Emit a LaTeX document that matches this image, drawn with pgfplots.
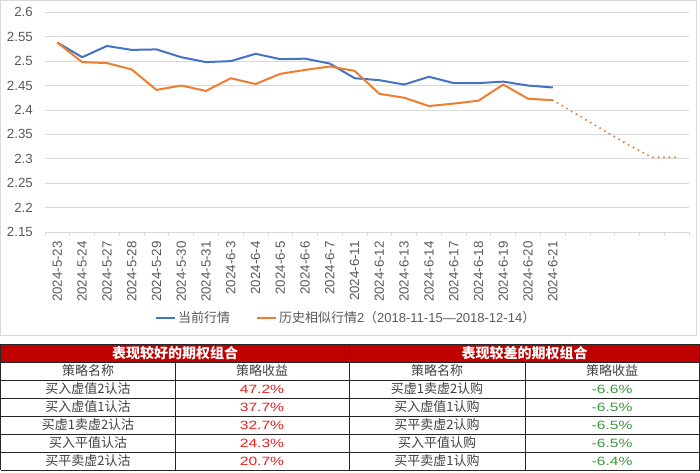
\documentclass[border=0pt]{standalone}
\usepackage{fontspec}
\setmainfont{Liberation Sans}
\newfontfamily\cjk{Noto Sans CJK SC}
\newfontfamily\numt[FakeStretch=1.3]{Liberation Sans}
\usepackage{pgfplots}
\pgfplotsset{compat=1.18}
\definecolor{cblue}{HTML}{4472C4}
\definecolor{corange}{HTML}{ED7D31}
\definecolor{cgrid}{HTML}{D9D9D9}
\definecolor{ctext}{HTML}{595959}
\definecolor{tred}{HTML}{C00000}
\definecolor{nred}{HTML}{F01E1E}
\definecolor{ngreen}{HTML}{3C9A3C}
\definecolor{tname}{HTML}{404040}
\begin{document}
\begin{tikzpicture}[x=1pt,y=1pt]
\useasboundingbox (0,0) rectangle (700,472);
\draw[cgrid, line width=0.8pt] (0.5,471.5) rectangle (696.5,136.5);
\begin{axis}[
  at={(45pt,240pt)}, anchor=south west,
  scale only axis, width=644pt, height=219.7pt,
  xmin=-0.5, xmax=25.5, ymin=2.15, ymax=2.6,
  axis line style={draw=none},
  ymajorgrids, grid style={cgrid, line width=0.8pt},
  ytick={2.15,2.2,2.25,2.3,2.35,2.4,2.45,2.5,2.55,2.6},
  yticklabels={2.15,2.2,2.25,2.3,2.35,2.4,2.45,2.5,2.55,2.6},
  xtick={0,...,20},
  xticklabels={2024-5-23,2024-5-24,2024-5-27,2024-5-28,2024-5-29,2024-5-30,2024-5-31,2024-6-3,2024-6-4,2024-6-5,2024-6-6,2024-6-7,2024-6-11,2024-6-12,2024-6-13,2024-6-14,2024-6-17,2024-6-18,2024-6-19,2024-6-20,2024-6-21},
  minor xtick={-0.5,0.5,...,25.5},
  xtick pos=left, ytick pos=left,
  major tick length=0pt,
  minor tick length=4pt,
  tick align=outside,
  minor tick style={cgrid, line width=0.8pt},
  xticklabel style={rotate=90, anchor=east, inner sep=0pt},
  xticklabel shift=9pt,
  yticklabel style={anchor=east, inner sep=0pt},
  yticklabel shift=12pt,
  tick label style={font=\fontsize{13.3}{15}\selectfont, text=ctext},
  legend columns=2,
  legend cell align=left,
  legend style={draw=none, fill=none, at={(axis description cs:0.1708,-0.391)}, anchor=west,
    font=\fontsize{13}{15}\selectfont, text=ctext, inner sep=0pt, outer sep=0pt,
    /tikz/every even column/.append style={column sep=24pt}},
  legend image code/.code={\draw[#1, line width=2pt] (0pt,0pt) -- (19pt,0pt);},
]
\addplot[cblue, line width=2pt, line join=round] coordinates {
(0,2.538) (1,2.508) (2,2.531) (3,2.523) (4,2.524) (5,2.508) (6,2.498) (7,2.500)
(8,2.515) (9,2.504) (10,2.505) (11,2.495) (12,2.465) (13,2.461) (14,2.452)
(15,2.468) (16,2.455) (17,2.455) (18,2.458) (19,2.450) (20,2.446)};
\addlegendentry{{\cjk 当前行情}}
\addplot[corange, line width=2pt, line join=round] coordinates {
(0,2.538) (1,2.498) (2,2.496) (3,2.483) (4,2.441) (5,2.450) (6,2.439) (7,2.465)
(8,2.453) (9,2.474) (10,2.482) (11,2.489) (12,2.480) (13,2.433) (14,2.425)
(15,2.408) (16,2.413) (17,2.419) (18,2.452) (19,2.423) (20,2.420)};
\addlegendentry{{\cjk 历史相似行情}2{\cjk （}2018-11-15—2018-12-14{\cjk ）}}
\addplot[corange, line width=2.3pt, dash pattern=on 0pt off 5.5pt, line cap=round, forget plot] coordinates {
(20,2.420) (21,2.390) (22,2.360) (23,2.330) (24,2.303) (25,2.303)};
\end{axis}
% table
\fill[tred] (0.5,110) rectangle (699.5,128);
\foreach \yy in {128,110,92,74,56,38,20,2} {\draw[black!85, line width=0.7pt] (0.5,\yy) -- (699.5,\yy);}
\foreach \xx in {0.5,349.5,699.5} {\draw[black!85, line width=0.7pt] (\xx,128) -- (\xx,2);}
\foreach \xx in {175,525} {\draw[black!85, line width=0.7pt] (\xx,110) -- (\xx,2);}
\node[text=white, font=\cjk\bfseries\fontsize{14}{16}\selectfont] at (175,119) {表现较好的期权组合};
\node[text=white, font=\cjk\bfseries\fontsize{14}{16}\selectfont] at (524.5,119) {表现较差的期权组合};
\begin{scope}[every node/.style={font=\cjk\fontsize{13}{15}\selectfont, text=tname}]
\node at (88,101) {策略名称};
\node at (262,101) {策略收益};
\node at (437,101) {策略名称};
\node at (612,101) {策略收益};
\node at (88,83) {买入虚值2认沽};
\node at (88,65) {买入虚值1认沽};
\node at (88,47) {买虚1卖虚2认沽};
\node at (88,29) {买入平值认沽};
\node at (88,11) {买平卖虚2认沽};
\node at (437,83) {买虚1卖虚2认购};
\node at (437,65) {买入虚值1认购};
\node at (437,47) {买平卖虚2认购};
\node at (437,29) {买入平值认购};
\node at (437,11) {买平卖虚1认购};
\end{scope}
\begin{scope}[every node/.style={font=\numt\fontsize{12}{14}\selectfont}]
\node[text=nred] at (262,83) {47.2\%};
\node[text=nred] at (262,65) {37.7\%};
\node[text=nred] at (262,47) {32.7\%};
\node[text=nred] at (262,29) {24.3\%};
\node[text=nred] at (262,11) {20.7\%};
\node[text=ngreen] at (612,83) {-6.6\%};
\node[text=ngreen] at (612,65) {-6.5\%};
\node[text=ngreen] at (612,47) {-6.5\%};
\node[text=ngreen] at (612,29) {-6.5\%};
\node[text=ngreen] at (612,11) {-6.4\%};
\end{scope}
\end{tikzpicture}
\end{document}
